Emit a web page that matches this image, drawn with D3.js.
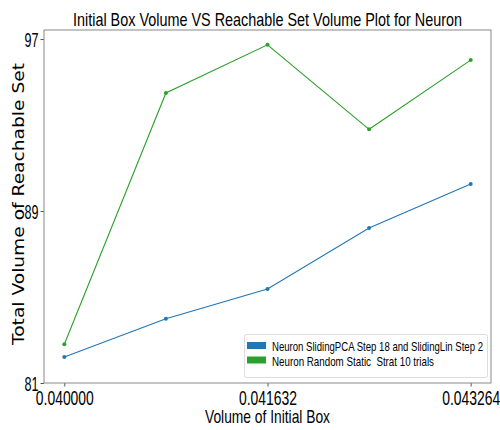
<!DOCTYPE html>
<html><head><meta charset="utf-8">
<script src="https://cdn.jsdelivr.net/npm/d3@7"></script>
<style>body{margin:0;background:#fff;} text{fill:#000;white-space:pre;}</style>
</head><body>
<svg id="c" width="500" height="430"></svg>
<script>
const xValues = [0.040000, 0.040816, 0.041632, 0.042448, 0.043264];
const blueValues = [82.21, 83.99, 85.37, 88.21, 90.26];
const greenValues = [82.8, 94.49, 96.73, 92.8, 96.02];
const xTicks = [0.040000, 0.041632, 0.043264];
const yTicks = [81, 89, 97];
const seriesNames = ["Neuron SlidingPCA Step 18 and SlidingLin Step 2", "Neuron Random Static  Strat 10 trials"];
const colors = ["#1f77b4", "#2ca02c"];

const svg = d3.select("#c");
const m = {l:44, r:491, t:30, b:383};
const xr = xValues[4]-xValues[0];
const x = d3.scaleLinear().domain([xValues[0]-0.05*xr, xValues[4]+0.05*xr]).range([m.l, m.r]);
const y = d3.scaleLinear().domain([81, 97.42]).range([m.b, m.t]);
const sans = "'Liberation Sans', Arial, sans-serif";

svg.append("g").attr("transform",`translate(0,${m.b})`)
  .call(d3.axisBottom(x).tickValues(xTicks).tickFormat(d3.format(".6f")).tickSize(3.5).tickPadding(2))
  .call(g=>g.select(".domain").remove())
  .call(g=>g.selectAll("line").attr("stroke","#555"))
  .call(g=>g.selectAll("text").attr("font-family",sans).attr("font-size",20.5).attr("dy",null).attr("y",21.5)
     .attr("textLength",58).attr("lengthAdjust","spacingAndGlyphs"));
svg.append("g").attr("transform",`translate(${m.l},0)`)
  .call(d3.axisLeft(y).tickValues(yTicks).tickFormat(d3.format("d")).tickSize(3.5).tickPadding(2))
  .call(g=>g.select(".domain").remove())
  .call(g=>g.selectAll("line").attr("stroke","#555"))
  .call(g=>g.selectAll("text").attr("font-family",sans).attr("font-size",20.5).attr("dy","0.36em")
     .attr("textLength",14).attr("lengthAdjust","spacingAndGlyphs"));

svg.append("rect").attr("x",m.l).attr("y",m.t).attr("width",m.r-m.l).attr("height",m.b-m.t)
  .attr("fill","none").attr("stroke","#888").attr("stroke-width",1);

const series = [blueValues, greenValues];
const line = d3.line().x((d,i)=>x(xValues[i])).y(d=>y(d));
series.forEach((vals,k)=>{
  svg.append("path").datum(vals).attr("d",line).attr("fill","none").attr("stroke",colors[k]).attr("stroke-width",1.1);
  svg.selectAll(null).data(vals).enter().append("circle")
    .attr("cx",(d,i)=>x(xValues[i])).attr("cy",d=>y(d)).attr("r",2).attr("fill",colors[k]);
});

svg.append("text").attr("x",73).attr("y",25.5)
  .attr("font-family",sans).attr("font-size",19).attr("textLength",389).attr("lengthAdjust","spacingAndGlyphs")
  .text("Initial Box Volume VS Reachable Set Volume Plot for Neuron");
svg.append("text").attr("x",205).attr("y",423)
  .attr("font-family",sans).attr("font-size",19).attr("textLength",125).attr("lengthAdjust","spacingAndGlyphs")
  .text("Volume of Initial Box");
svg.append("text").attr("transform",`translate(24,345) rotate(-90)`)
  .attr("font-family","'DejaVu Sans', sans-serif").attr("font-size",16).attr("textLength",282).attr("lengthAdjust","spacingAndGlyphs")
  .text("Total Volume of Reachable Set");

const lg = svg.append("g").attr("transform","translate(244,334)");
lg.append("rect").attr("x",0.5).attr("y",0.5).attr("width",243).attr("height",43).attr("fill","#fff").attr("stroke","#ddd").attr("rx",2);
const lgW = [211, 162];
seriesNames.forEach((n,k)=>{
  lg.append("rect").attr("x",3).attr("y",8+k*14.5).attr("width",19).attr("height",7).attr("fill",colors[k]);
  lg.append("text").attr("x",28).attr("y",16.5+k*15.5).attr("font-family",sans).attr("font-size",13.5)
    .attr("textLength",lgW[k]).attr("lengthAdjust","spacingAndGlyphs").text(n);
});
</script>
</body></html>
